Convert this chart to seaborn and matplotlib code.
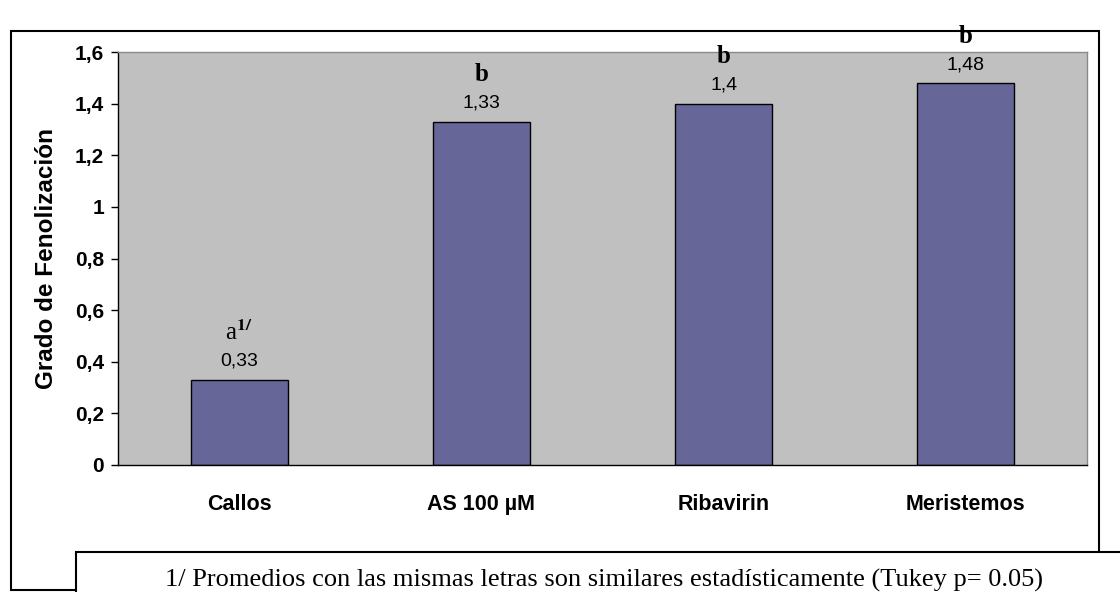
import matplotlib
matplotlib.use('Agg')
import matplotlib.pyplot as plt
import seaborn as sns
import pandas as pd
from matplotlib.patches import Rectangle

# data
tratamientos = ['Callos', 'AS 100 µM', 'Ribavirin', 'Meristemos']
fenolizacion = [0.33, 1.33, 1.4, 1.48]
etiquetas = ['0,33', '1,33', '1,4', '1,48']
letras = [r'a$^{\mathbf{1/}}$', 'b', 'b', 'b']
yticks = [0, 0.2, 0.4, 0.6, 0.8, 1, 1.2, 1.4, 1.6]
ytick_labels = ['0', '0,2', '0,4', '0,6', '0,8', '1', '1,2', '1,4', '1,6']
nota = '1/ Promedios con las mismas letras son similares estadísticamente (Tukey p= 0.05)'

df = pd.DataFrame({'tratamiento': tratamientos, 'valor': fenolizacion})

sns.set_style('white')
plt.rcParams['font.family'] = ['Liberation Sans', 'DejaVu Sans']
plt.rcParams['mathtext.fontset'] = 'stix'
plt.rcParams['text.color'] = 'black'
plt.rcParams['axes.labelcolor'] = 'black'
plt.rcParams['xtick.color'] = 'black'
plt.rcParams['ytick.color'] = 'black'

W, H = 1120, 592
fig = plt.figure(figsize=(W / 100, H / 100), dpi=100)
ax = fig.add_axes([118 / W, 1 - 465 / H, (1087 - 118) / W, (465 - 52) / H])
ax.set_facecolor('#C0C0C0')

sns.barplot(data=df, x='tratamiento', y='valor', color='#666699',
            edgecolor='black', linewidth=1, width=0.4, saturation=1, ax=ax)

ax.set_xlim(-0.5, 3.5)
ax.set_ylim(0, 1.6)
ax.set_yticks(yticks)
ax.set_yticklabels(ytick_labels, fontsize=15, fontweight='bold')
ax.set_xticks(range(len(tratamientos)))
ax.set_xticklabels(tratamientos, fontsize=15.5, fontweight='bold')
ax.set_xticks([-0.5, 0.5, 1.5, 2.5, 3.5], minor=True)
ax.tick_params(axis='x', which='major', length=0, pad=21)
ax.tick_params(axis='x', which='minor', length=5, width=1, color='black', direction='out')
ax.tick_params(axis='y', length=5, width=1, color='black', direction='out', left=True, pad=5)
ax.set_xlabel('')
ax.set_ylabel('Grado de Fenolización', fontsize=17.5, fontweight='bold', labelpad=12)

for side in ['left', 'bottom']:
    ax.spines[side].set_color('black')
    ax.spines[side].set_linewidth(1)
for side in ['top', 'right']:
    ax.spines[side].set_color('#8a8a8a')
    ax.spines[side].set_linewidth(1)

# value labels and Tukey letters
for i, (v, lab, let) in enumerate(zip(fenolizacion, etiquetas, letras)):
    ax.annotate(lab, (i, v), xytext=(0, 10), textcoords='offset points',
                ha='center', va='baseline', fontsize=14, annotation_clip=False)
    ax.annotate(let, (i, v), xytext=(0, 29), textcoords='offset points',
                ha='center', va='baseline', fontsize=18, annotation_clip=False,
                family='Liberation Serif', fontweight='bold' if let == 'b' else 'normal')

# outer chart border and footnote box
fig.add_artist(Rectangle((11 / W, 1 - 590 / H), (1099 - 11) / W, (590 - 31) / H,
                         transform=fig.transFigure, fill=False, edgecolor='black',
                         linewidth=1.5, zorder=0))
fig.add_artist(Rectangle((76 / W, 1 - 600 / H), (1130 - 76) / W, (600 - 552) / H,
                         transform=fig.transFigure, facecolor='white', edgecolor='black',
                         linewidth=1.5, zorder=5))
fig.text(604 / W, 1 - 587 / H, nota, ha='center', va='baseline', fontsize=19,
         family='Liberation Serif', zorder=6)

fig.savefig('out.png', dpi=100)
